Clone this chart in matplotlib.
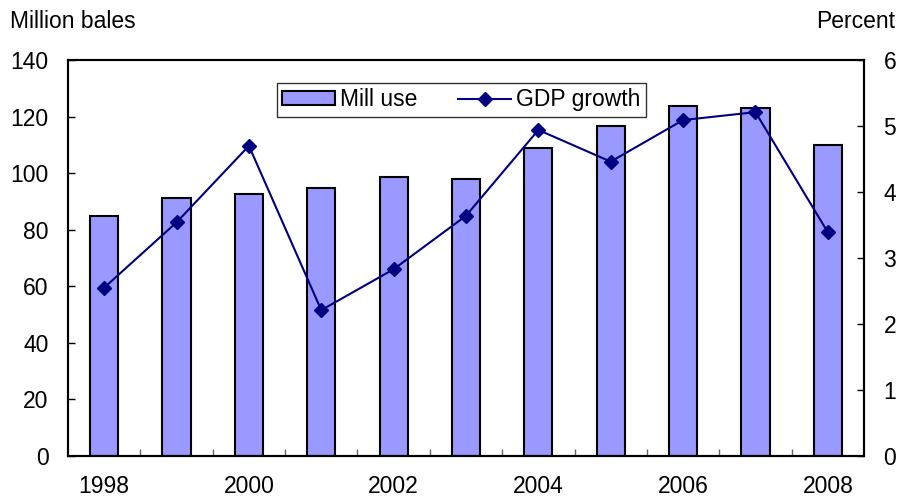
import numpy as np
import matplotlib.pyplot as plt
from matplotlib.lines import Line2D
from matplotlib.patches import Patch

plt.rcParams['font.family'] = ['Liberation Sans', 'DejaVu Sans']

years = [1998, 1999, 2000, 2001, 2002, 2003, 2004, 2005, 2006, 2007, 2008]
mill_use = [85.0, 91.2, 92.5, 94.6, 98.5, 98.0, 108.8, 116.6, 123.8, 122.9, 109.9]
gdp_growth = [2.55, 3.54, 4.70, 2.21, 2.83, 3.64, 4.94, 4.46, 5.09, 5.21, 3.39]
year_labels = [str(y) if y % 2 == 0 else "" for y in years]

FS = 16.5

fig = plt.figure(figsize=(8.98, 5.0), dpi=100)
ax = fig.add_axes([68 / 898, 44 / 500, 796 / 898, 396 / 500])
ax2 = ax.twinx()

x = np.arange(len(years))
ax.bar(x, mill_use, width=0.39, color='#9999FF', edgecolor='black', linewidth=1.5, zorder=2)
ax2.plot(x, gdp_growth, color='#000080', marker='D', markersize=7, linewidth=1.5, zorder=3)

ax.set_xlim(-0.5, len(years) - 0.5)
ax.set_ylim(0, 140)
ax.set_yticks(range(0, 141, 20))
ax2.set_ylim(0, 6)
ax2.set_yticks(range(0, 7))

# category labels under the bars, ticks sit between categories
ax.set_xticks(x)
ax.set_xticklabels(year_labels, fontsize=FS)
ax.tick_params(axis='x', length=0, pad=14)
ax.set_xticks(np.arange(0.5, len(years) - 0.5, 1), minor=True)
ax.tick_params(axis='x', which='minor', direction='in', length=5, width=1, color='#666666')

ax.tick_params(axis='y', direction='in', length=5, width=1, labelsize=FS, pad=14)
ax2.tick_params(axis='y', direction='in', length=5, width=1, labelsize=FS, pad=14)

for a in (ax, ax2):
    for s in a.spines.values():
        s.set_linewidth(1.5)

fig.text(10 / 898, 1 - 22 / 500, "Million bales", fontsize=FS, va='center', ha='left')
fig.text(895 / 898, 1 - 22 / 500, "Percent", fontsize=FS, va='center', ha='right')

handles = [Patch(facecolor='#9999FF', edgecolor='black', linewidth=1.5),
           Line2D([0], [0], color='#000080', marker='D', markersize=7, linewidth=1.5)]
leg = ax2.legend(handles, ["Mill use", "GDP growth"], loc='upper center',
                 bbox_to_anchor=(0.494, 0.972), ncol=2, fontsize=FS, frameon=True,
                 fancybox=False, edgecolor='black', handlelength=2.3, handleheight=0.6,
                 handletextpad=0.2, columnspacing=1.8, borderpad=0.25)
leg.get_frame().set_linewidth(1.0)

plt.savefig("out.png", dpi=100)
